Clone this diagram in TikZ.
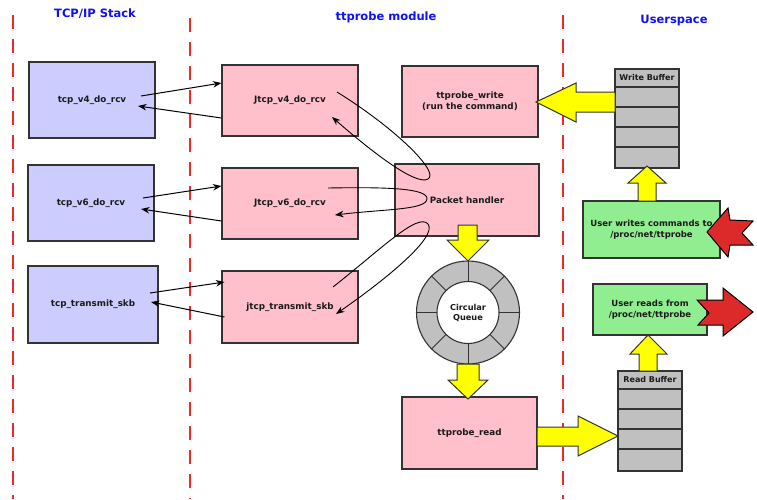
\documentclass[tikz,border=0pt]{standalone}
\usepackage{fontspec}
\setmainfont{DejaVu Sans}
\usetikzlibrary{arrows.meta}
\definecolor{boxblue}{HTML}{CCCCFF}
\definecolor{boxpink}{HTML}{FFC0CB}
\definecolor{boxgreen}{HTML}{90EE90}
\definecolor{bufgray}{HTML}{C0C0C0}
\definecolor{edge}{HTML}{333333}
\definecolor{txt}{HTML}{1A1A1A}
\definecolor{hdrblue}{HTML}{1010F5}
\definecolor{dashred}{HTML}{F02828}
\definecolor{arrred}{HTML}{DC2A2A}
\definecolor{arryellow}{HTML}{FFFF00}
\begin{document}
\begin{tikzpicture}[x=1pt,y=-1pt,
  box/.style={draw=edge, line width=1.1pt, inner sep=0pt, align=center,
    font=\fontsize{8.8}{10.8}\selectfont\bfseries, text=txt},
  bluebox/.style={box, fill=boxblue},
  pinkbox/.style={box, fill=boxpink},
  greenbox/.style={box, fill=boxgreen, font=\fontsize{8.5}{10.8}\selectfont\bfseries},
  bufcell/.style={draw=edge, line width=1.1pt, fill=bufgray},
  bufhead/.style={box, fill=bufgray, font=\fontsize{8}{9}\selectfont\bfseries},
  header/.style={font=\fontsize{11.5}{13}\selectfont\bfseries, text=hdrblue, inner sep=0pt},
  divider/.style={dashred, line width=1.2pt, dash pattern=on 14pt off 10pt},
  arr/.style={black, line width=1pt, -{Stealth[length=8.5pt,width=6.5pt]}},
  loop/.style={black, line width=0.9pt, -{Stealth[length=8.5pt,width=6.5pt]}},
  yarrow/.style={fill=arryellow, draw=edge, line width=1pt, line join=miter},
  rarrow/.style={fill=arrred, draw=black, line width=1pt, line join=miter}]
\useasboundingbox (0,0) rectangle (757,499);
\fill[white] (0,0) rectangle (757,499);

% dividers
\draw[divider] (13,15) -- (13,499);
\draw[divider] (190,18) -- (190,499);
\draw[divider] (563,15) -- (563,499);

% headers
\node[header] (h1) at (95,14) {TCP/IP Stack};
\node[header] (h2) at (386,17) {ttprobe module};
\node[header] (h3) at (674,21) {Userspace};

% TCP/IP stack boxes
\node[bluebox, minimum width=126pt, minimum height=76pt] (tv4) at (92,100) {tcp\_v4\_do\_rcv};
\node[bluebox, minimum width=126pt, minimum height=76pt] (tv6) at (91,203) {tcp\_v6\_do\_rcv};
\node[bluebox, minimum width=130pt, minimum height=77pt] (tts) at (93,304.5) {tcp\_transmit\_skb};

% module boxes
\node[pinkbox, minimum width=136pt, minimum height=71pt] (jv4) at (290,100.5) {Jtcp\_v4\_do\_rcv};
\node[pinkbox, minimum width=136pt, minimum height=71pt] (jv6) at (290,203.5) {Jtcp\_v6\_do\_rcv};
\node[pinkbox, minimum width=136pt, minimum height=72pt] (jts) at (290,307) {jtcp\_transmit\_skb};
\node[pinkbox, minimum width=136pt, minimum height=71pt] (tw) at (470,101.5) {ttprobe\_write\\(run the command)};
\node[pinkbox, minimum width=144pt, minimum height=72pt] (ph) at (467,200) {Packet handler};
\node[pinkbox, minimum width=135pt, minimum height=72pt] (tr) at (469.5,433) {ttprobe\_read};

% circular queue
\fill[bufgray, draw=edge, line width=1.1pt] (468,312.5) circle[radius=51.5pt];
\foreach \a in {0,45,...,315}
  \draw[edge, line width=1pt] (468,312.5) ++(\a:31pt) -- ++(\a:20.5pt);
\node[circle, fill=white, draw=edge, line width=1.1pt, minimum size=62pt, inner sep=0pt,
  align=center, font=\fontsize{8.2}{10}\selectfont\bfseries, text=txt] (cq) at (468,312.5) {Circular\\Queue};

% write buffer
\node[bufhead, minimum width=64pt, minimum height=18pt] (wbh) at (647,78) {Write Buffer};
\foreach \y/\h in {87/107,107/127,127/147,147/168}
  \draw[bufcell] (615,\y) rectangle (679,\h);
% read buffer
\node[bufhead, minimum width=64pt, minimum height=18pt] (rbh) at (650,380) {Read Buffer};
\foreach \y/\h in {389/409,409/429,429/449,449/471}
  \draw[bufcell] (618,\y) rectangle (682,\h);

% userspace boxes
\node[greenbox, minimum width=137pt, minimum height=57pt] (gw) at (651.5,229.5) {User writes commands to\\/proc/net/ttprobe};
\node[greenbox, minimum width=114pt, minimum height=51pt] (gr) at (650,309.5) {User reads from\\/proc/net/ttprobe};

% black arrows between stack and module
\draw[arr] ([shift={(49,-4)}]tv4.center) -- ([shift={(0,-17.5)}]jv4.west);
\draw[arr] ([shift={(0,17.5)}]jv4.west) -- ([shift={(46,6)}]tv4.center);
\draw[arr] ([shift={(52,-5)}]tv6.center) -- ([shift={(0,-17.5)}]jv6.west);
\draw[arr] ([shift={(0,17.5)}]jv6.west) -- ([shift={(50,6)}]tv6.center);
\draw[arr] ([shift={(57,-11.5)}]tts.center) -- ([shift={(3,-25)}]jts.west);
\draw[arr] ([shift={(3,10)}]jts.west) -- ([shift={(58,-2.5)}]tts.center);

% loops through packet handler
\draw[loop] ([shift={(47,-8.5)}]jv4.center) .. controls (395,128) and (440,172) .. (428,179)
  .. controls (416,186) and (372,152) .. ([shift={(42,16.5)}]jv4.center);
\draw[loop] ([shift={(38,-15.5)}]jv6.center) .. controls (385,187) and (428,188) .. (427,199)
  .. controls (426,210) and (385,209) .. ([shift={(45,11.5)}]jv6.center);
\draw[loop] ([shift={(43,-20)}]jts.center) .. controls (380,250) and (418,212) .. (428,224)
  .. controls (438,237) and (385,280) .. ([shift={(46,7)}]jts.center);

% yellow block arrows
\draw[yarrow] (536,102) -- (576,83) -- (576,92) -- (615,92) -- (615,112) -- (576,112) -- (576,122) -- cycle;
\draw[yarrow] (647,166) -- (666,183) -- (656,183) -- (656,201) -- (638,201) -- (638,183) -- (628,183) -- cycle;
\draw[yarrow] (458,225) -- (477,225) -- (477,240) -- (489,240) -- (468,261) -- (447,240) -- (458,240) -- cycle;
\draw[yarrow] (457,364) -- (479,364) -- (479,380) -- (488,380) -- (468,399) -- (448,380) -- (457,380) -- cycle;
\draw[yarrow] (537,427) -- (578,427) -- (578,416) -- (618,436) -- (578,456) -- (578,446) -- (537,446) -- cycle;
\draw[yarrow] (648,335) -- (667,354) -- (657,354) -- (657,371) -- (639,371) -- (639,354) -- (630,354) -- cycle;

% red arrows
\draw[rarrow] (707,232) -- (728,208) -- (730,220) -- (753,221) -- (742,233) -- (753,245) -- (730,245) -- (728,257) -- cycle;
\draw[rarrow] (697,300) -- (723,300) -- (723,288) -- (753,312) -- (723,336) -- (723,325) -- (698,325) -- (709,313) -- cycle;
\end{tikzpicture}
\end{document}
